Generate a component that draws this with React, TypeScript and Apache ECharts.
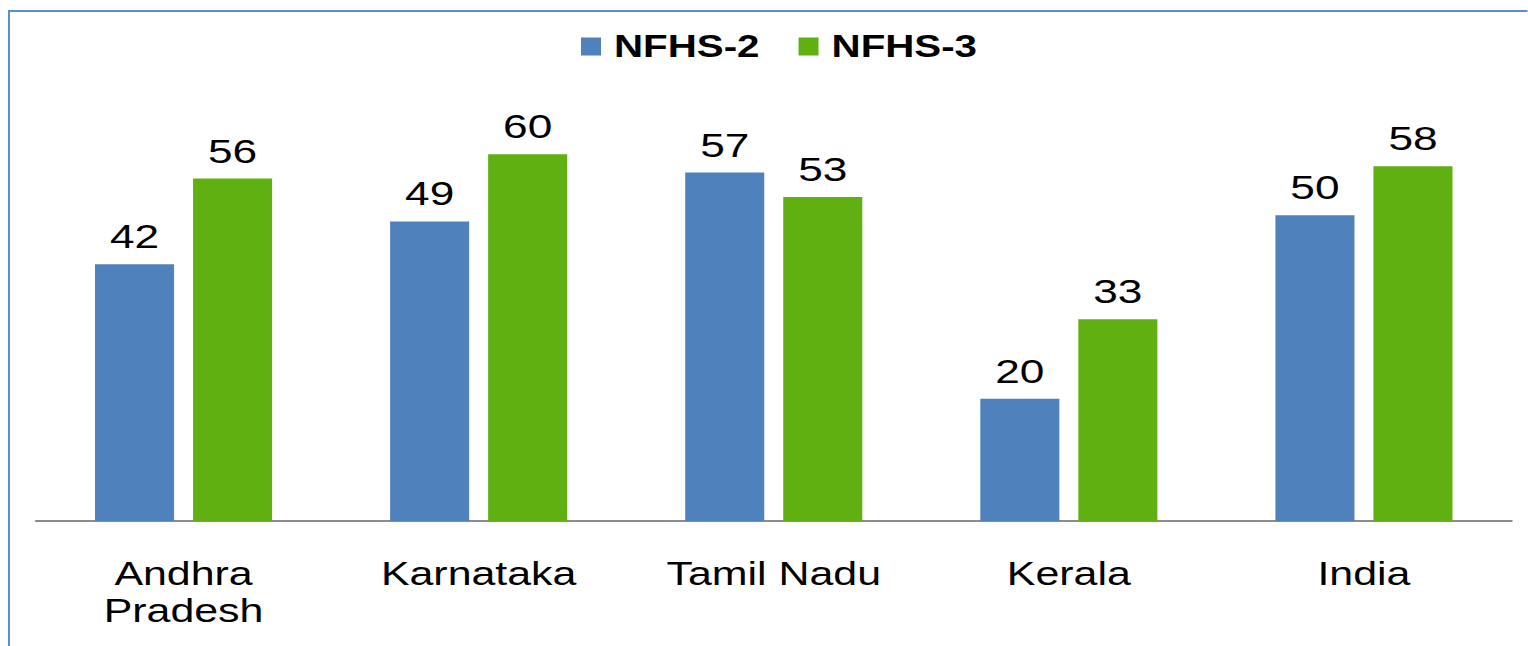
import React, { useEffect, useRef } from "react";
import * as echarts from "echarts";

const categories = ["Andhra\nPradesh", "Karnataka", "Tamil Nadu", "Kerala", "India"];
const nfhs2 = [42, 49, 57, 20, 50];
const nfhs3 = [56, 60, 53, 33, 58];
const seriesNames = ["NFHS-2", "NFHS-3"];

// The reference's text is horizontally stretched; render narrower and stretch.
const SX = 1.3;
const W = 1528 / SX;
const H = 646;

export default function App() {
  const ref = useRef<HTMLDivElement>(null);
  useEffect(() => {
    if (!ref.current) return;
    const chart = echarts.init(ref.current, null, { renderer: "svg" });
    const font = "'Liberation Sans', Arial, sans-serif";
    chart.setOption({
      animation: false,
      backgroundColor: "#ffffff",
      textStyle: { fontFamily: font },
      graphic: [
        {
          type: "line",
          shape: { x1: 8 / SX, y1: 11, x2: W + 10, y2: 11 },
          style: { stroke: "#5B8DD3", lineWidth: 2 },
          silent: true,
        },
        {
          type: "line",
          shape: { x1: 9 / SX, y1: 10, x2: 9 / SX, y2: H + 10 },
          style: { stroke: "#5B8DD3", lineWidth: 2 / SX },
          silent: true,
        },
      ],
      legend: {
        data: seriesNames,
        top: 31,
        left: 581 / SX,
        padding: 0,
        itemWidth: 20 / SX,
        itemHeight: 18,
        itemGap: 39 / SX,
        icon: "rect",
        textStyle: {
          fontSize: 31,
          fontWeight: "bold",
          color: "#000",
          fontFamily: font,
          padding: [0, 0, 0, 5],
        },
      },
      grid: { left: 36 / SX, right: 16 / SX, top: 93, bottom: 125 },
      xAxis: {
        type: "category",
        data: categories,
        axisLine: { lineStyle: { color: "#8c8c8c", width: 2 } },
        axisTick: { show: false },
        axisLabel: { fontSize: 33, color: "#000", margin: 34, lineHeight: 37, fontFamily: font },
      },
      yAxis: {
        type: "value",
        min: 0,
        max: 70,
        show: false,
        splitLine: { show: false },
      },
      series: [
        {
          name: seriesNames[0],
          type: "bar",
          data: nfhs2,
          itemStyle: { color: "#4F81BD" },
          barGap: "24%",
          barCategoryGap: "40%",
          label: { show: true, position: "top", distance: 11, fontSize: 34, color: "#000", fontFamily: font },
        },
        {
          name: seriesNames[1],
          type: "bar",
          data: nfhs3,
          itemStyle: { color: "#5FB010" },
          barGap: "24%",
          barCategoryGap: "40%",
          label: { show: true, position: "top", distance: 11, fontSize: 34, color: "#000", fontFamily: font },
        },
      ],
    });
    return () => chart.dispose();
  }, []);
  return (
    <div style={{ position: "absolute", left: 0, top: 0, width: 1528, height: H, overflow: "hidden" }}>
      <div
        ref={ref}
        style={{
          position: "absolute",
          left: 0,
          top: 0,
          width: W,
          height: H,
          transform: `scaleX(${SX})`,
          transformOrigin: "0 0",
        }}
      />
    </div>
  );
}
